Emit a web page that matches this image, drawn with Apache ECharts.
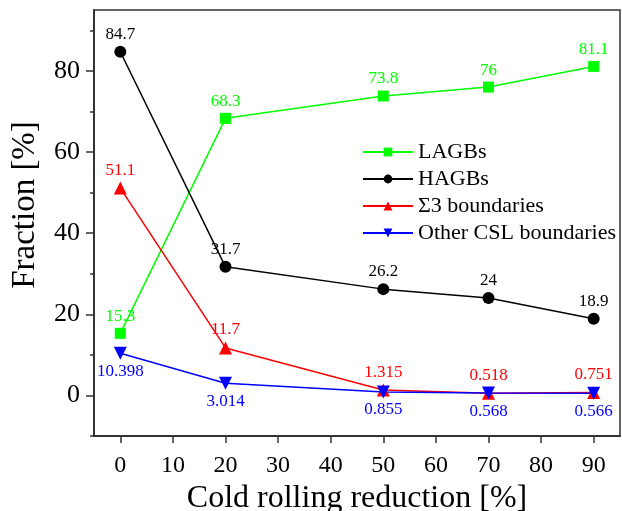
<!DOCTYPE html>
<html>
<head>
<meta charset="utf-8">
<script src="https://cdn.jsdelivr.net/npm/echarts@6/dist/echarts.min.js"></script>
<style>html,body{margin:0;padding:0;background:#fff;}#c{width:622px;height:511px;}</style>
</head>
<body>
<div id="c"></div>
<script>
var xValues = [0, 20, 50, 70, 90];
var lagbs = [15.3, 68.3, 73.8, 76, 81.1];
var hagbs = [84.7, 31.7, 26.2, 24, 18.9];
var sigma3 = [51.1, 11.7, 1.315, 0.518, 0.751];
var otherCsl = [10.398, 3.014, 0.855, 0.568, 0.566];
var lagbsLabels = ['15.3', '68.3', '73.8', '76', '81.1'];
var hagbsLabels = ['84.7', '31.7', '26.2', '24', '18.9'];
var sigma3Labels = ['51.1', '11.7', '1.315', '0.518', '0.751'];
var otherLabels = ['10.398', '3.014', '0.855', '0.568', '0.566'];
var xTicks = [0, 10, 20, 30, 40, 50, 60, 70, 80, 90];
var yMajorTicks = [0, 20, 40, 60, 80];
var yMinorTicks = [-10, 10, 30, 50, 70, 90];

var SERIF = '"Liberation Serif", "DejaVu Serif", serif';

function pairs(vals) {
  return xValues.map(function (x, i) { return [x, vals[i]]; });
}

function mkSeries(name, vals, labels, color, symbol, size, pos, rotate) {
  return {
    name: name,
    type: 'line',
    data: pairs(vals),
    symbol: symbol,
    symbolSize: size,
    symbolRotate: rotate || 0,
    lineStyle: { color: color, width: 1.5 },
    itemStyle: { color: color },
    label: {
      show: true,
      position: pos,
      distance: 3,
      color: color,
      fontFamily: SERIF,
      fontSize: 17,
      formatter: function (p) { return labels[p.dataIndex]; }
    },
    emphasis: { disabled: true },
    animation: false,
    z: 3
  };
}

var chart = echarts.init(document.getElementById('c'));
chart.setOption({
  backgroundColor: '#fff',
  animation: false,
  grid: {
    left: 94, top: 10, right: 2, bottom: 75,
    containLabel: false,
    outerBoundsMode: 'none',
    show: true, borderColor: '#333', borderWidth: 1.5, backgroundColor: 'transparent'
  },
  legend: {
    orient: 'vertical',
    left: 357,
    top: 136,
    padding: 5,
    itemWidth: 50,
    itemHeight: 11,
    itemGap: 5,
    textStyle: { fontFamily: SERIF, fontSize: 22, color: '#000' },
    data: ['LAGBs', 'HAGBs', 'Σ3 boundaries', 'Other CSL boundaries']
  },
  xAxis: {
    type: 'value',
    min: -5,
    max: 95,
    name: 'Cold rolling reduction [%]',
    nameLocation: 'middle',
    nameGap: 35,
    nameTextStyle: { fontFamily: SERIF, fontSize: 32, color: '#000' },
    axisLine: { show: true, onZero: false, lineStyle: { color: '#333', width: 2 } },
    axisTick: { show: true, inside: false, length: 7, customValues: xTicks, lineStyle: { color: '#333', width: 1.5 } },
    axisLabel: { customValues: xTicks, fontFamily: SERIF, fontSize: 24, color: '#000', margin: 18 },
    splitLine: { show: false }
  },
  yAxis: [{
    type: 'value',
    min: -10,
    max: 95,
    name: 'Fraction [%]',
    nameLocation: 'middle',
    nameGap: 52,
    nameTextStyle: { fontFamily: SERIF, fontSize: 33, color: '#000', padding: [0, 0, 0, 36] },
    axisLine: { show: true, onZero: false, lineStyle: { color: '#333', width: 2 } },
    axisTick: { show: true, length: 8, customValues: yMajorTicks, lineStyle: { color: '#333', width: 1.5 } },
    axisLabel: { customValues: yMajorTicks, fontFamily: SERIF, fontSize: 26, color: '#000', margin: 14 },
    splitLine: { show: false }
  }, {
    type: 'value',
    position: 'left',
    offset: 0,
    min: -10,
    max: 95,
    axisLine: { show: false, onZero: false },
    axisTick: { show: true, length: 4, customValues: yMinorTicks, lineStyle: { color: '#333', width: 1.5 } },
    axisLabel: { show: false, customValues: yMinorTicks },
    splitLine: { show: false }
  }],
  series: [
    mkSeries('LAGBs', lagbs, lagbsLabels, '#00ff00', 'rect', 11, 'top'),
    mkSeries('HAGBs', hagbs, hagbsLabels, '#000000', 'circle', 12, 'top'),
    mkSeries('Σ3 boundaries', sigma3, sigma3Labels, '#ff0000', 'triangle', 13, 'top'),
    mkSeries('Other CSL boundaries', otherCsl, otherLabels, '#0000ff', 'triangle', 13, 'bottom', 180)
  ]
});
</script>
</body>
</html>
